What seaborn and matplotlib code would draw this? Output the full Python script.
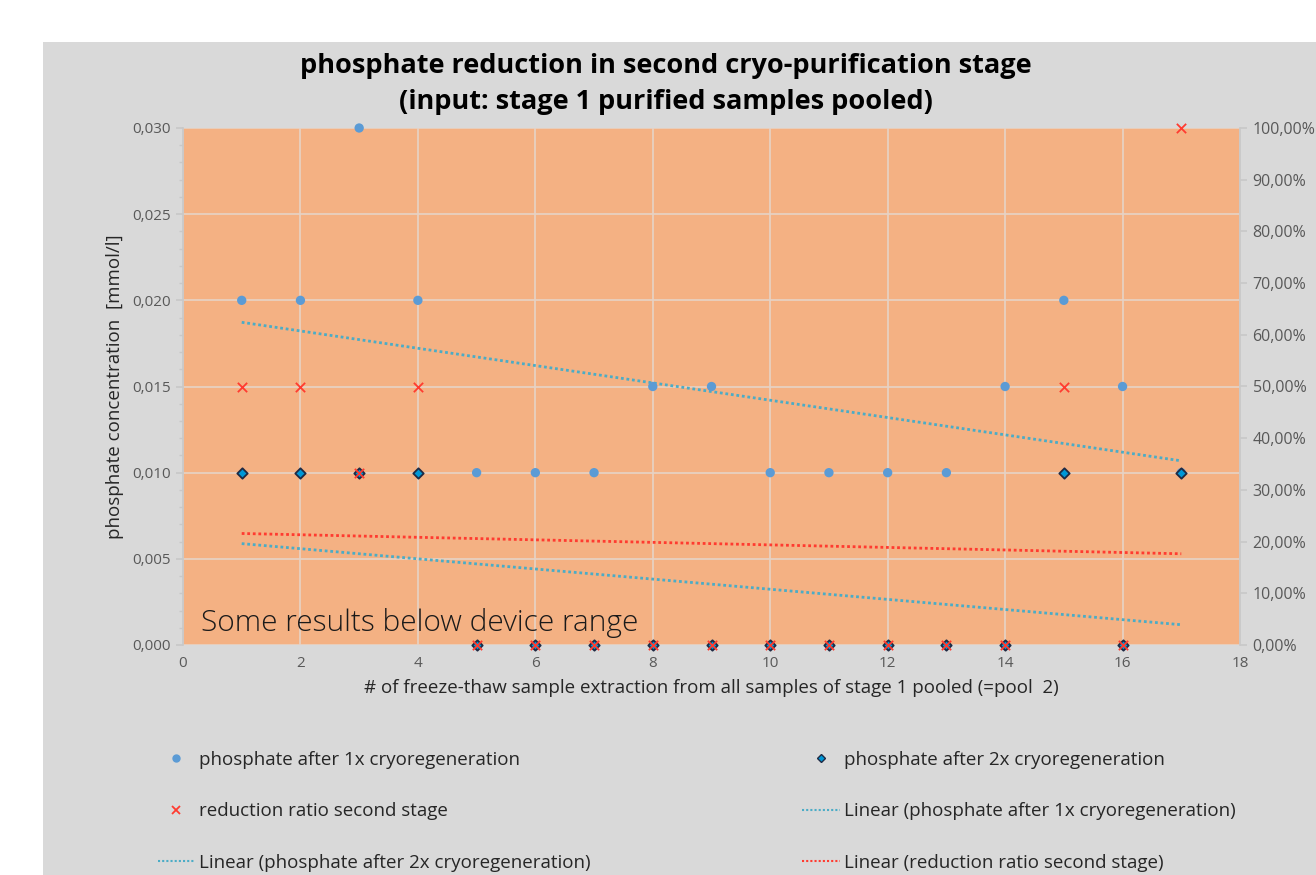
import numpy as np
import pandas as pd
import matplotlib
matplotlib.use("Agg")
import matplotlib.pyplot as plt
from matplotlib.patches import Rectangle
from matplotlib.ticker import FuncFormatter, MultipleLocator
from matplotlib.lines import Line2D
import seaborn as sns

sns.set_theme(style="white")
plt.rcParams['font.family'] = ['Open Sans', 'DejaVu Sans']

# data
extraction = list(range(1, 18))
phosphate1x = [0.020, 0.020, 0.030, 0.020, 0.010, 0.010, 0.010, 0.015, 0.015,
               0.010, 0.010, 0.010, 0.010, 0.015, 0.020, 0.015, 0.010]
phosphate2x = [0.010, 0.010, 0.010, 0.010, 0.0, 0.0, 0.0, 0.0, 0.0,
               0.0, 0.0, 0.0, 0.0, 0.0, 0.010, 0.0, 0.010]
reductionRatio = [0.50, 0.50, 0.3333, 0.50, 0.0, 0.0, 0.0, 0.0, 0.0,
                  0.0, 0.0, 0.0, 0.0, 0.0, 0.50, 0.0, 1.00]

df = pd.DataFrame({'x': extraction, 'p1': phosphate1x,
                   'p2': phosphate2x, 'ratio': reductionRatio})

blau = '#5B9BD5'
trendBlau = '#4BACC6'
rot = '#FF3B30'
txt = '#595959'

fig = plt.figure(figsize=(13.16, 8.75), dpi=100)
fig.patch.set_facecolor('white')
fig.patches.append(Rectangle((43 / 1316, 0), 1, 1 - 42 / 875, transform=fig.transFigure,
                             facecolor='#D9D9D9', edgecolor='none', zorder=-10))

ax = fig.add_axes([183 / 1316, 1 - 645 / 875, (1240 - 183) / 1316, (645 - 128) / 875])
ax.set_facecolor('#F4B183')
ax2 = ax.twinx()

# trend lines
sns.regplot(data=df, x='x', y='p1', ax=ax, scatter=False, ci=None,
            line_kws=dict(color=trendBlau, lw=2, ls=(0, (1, 1))))
sns.regplot(data=df, x='x', y='p2', ax=ax, scatter=False, ci=None,
            line_kws=dict(color=trendBlau, lw=2, ls=(0, (1, 1))))
sns.regplot(data=df, x='x', y='ratio', ax=ax2, scatter=False, ci=None,
            line_kws=dict(color=rot, lw=2, ls=(0, (1, 1))))

# markers
sns.scatterplot(data=df, x='x', y='p1', ax=ax, color=blau, s=45,
                edgecolor='none', clip_on=False, zorder=3)
sns.scatterplot(data=df, x='x', y='p2', ax=ax, color='#0097D6', marker='D', s=28,
                edgecolor='#1F2A44', linewidth=1.3, clip_on=False, zorder=4)
sns.scatterplot(data=df, x='x', y='ratio', ax=ax2, color=rot, marker='x', s=45,
                linewidth=1.3, clip_on=False, zorder=5)

ax.set_xlim(0, 18)
ax.set_ylim(0, 0.030)
ax2.set_ylim(0, 1.0)
ax.xaxis.set_major_locator(MultipleLocator(2))
ax.yaxis.set_major_locator(MultipleLocator(0.005))
ax.yaxis.set_minor_locator(MultipleLocator(0.001))
ax2.yaxis.set_major_locator(MultipleLocator(0.1))
ax.yaxis.set_major_formatter(FuncFormatter(lambda v, p: f"{v:.3f}".replace('.', ',')))
ax2.yaxis.set_major_formatter(FuncFormatter(lambda v, p: f"{v * 100:.2f}%".replace('.', ',')))

ax.grid(True, which='major', color='#E6D3C6', lw=1.2)
ax.set_axisbelow(True)
for a in (ax, ax2):
    for s in a.spines.values():
        s.set_visible(False)
ax.spines['left'].set_visible(True)
ax.spines['left'].set_color('#C8C8C8')
ax2.spines['right'].set_visible(True)
ax2.spines['right'].set_color('#C8C8C8')

ax.tick_params(axis='y', which='major', length=5, color='#C8C8C8', labelsize=11,
               labelcolor=txt, pad=4)
ax.tick_params(axis='y', which='minor', length=3, color='#C8C8C8', left=True)
ax.tick_params(axis='x', length=0, labelsize=11, labelcolor=txt, pad=8)
ax2.tick_params(axis='y', length=5, color='#C8C8C8', labelsize=11.5, labelcolor=txt, pad=4)

ax.set_xlabel("# of freeze-thaw sample extraction from all samples of stage 1 pooled (=pool  2)",
              fontsize=13.5, color='#262626', labelpad=6)
ax.set_ylabel("phosphate concentration  [mmol/l]", fontsize=13.5, color='#262626', labelpad=6)
ax2.set_ylabel("")

ax.text(0.3, 0.0004, "Some results below device range", fontsize=21.5, color='#1a1a1a',
        fontweight='light', va='bottom', ha='left', zorder=6)

fig.text(0.506, 0.904, "phosphate reduction in second cryo-purification stage\n"
         "(input: stage 1 purified samples pooled)", ha='center', va='center',
         fontsize=19.5, fontweight='bold', color='black', linespacing=1.5)

handles = [
    Line2D([], [], ls='none', marker='o', color=blau, markersize=5),
    Line2D([], [], ls='none', marker='x', color=rot, markersize=6, mew=1.3),
    Line2D([], [], color=trendBlau, lw=1.5, ls=(0, (1, 1))),
    Line2D([], [], ls='none', marker='D', markerfacecolor='#0097D6', markeredgecolor='#1F2A44',
           markersize=4),
    Line2D([], [], color=trendBlau, lw=1.5, ls=(0, (1, 1))),
    Line2D([], [], color=rot, lw=1.5, ls=(0, (1, 1))),
]
labels = [
    "phosphate after 1x cryoregeneration",
    "reduction ratio second stage",
    "Linear (phosphate after 2x cryoregeneration)",
    "phosphate after 2x cryoregeneration",
    "Linear (phosphate after 1x cryoregeneration)",
    "Linear (reduction ratio second stage)",
]
fig.legend(handles, labels, ncol=2, loc='upper left', bbox_to_anchor=(0.107, 0.161),
           frameon=False, fontsize=13.5, labelcolor='#262626', handlelength=2.0,
           handletextpad=0.2, columnspacing=11.3, labelspacing=1.78)

plt.savefig("out.png", dpi=100, facecolor=fig.get_facecolor())
